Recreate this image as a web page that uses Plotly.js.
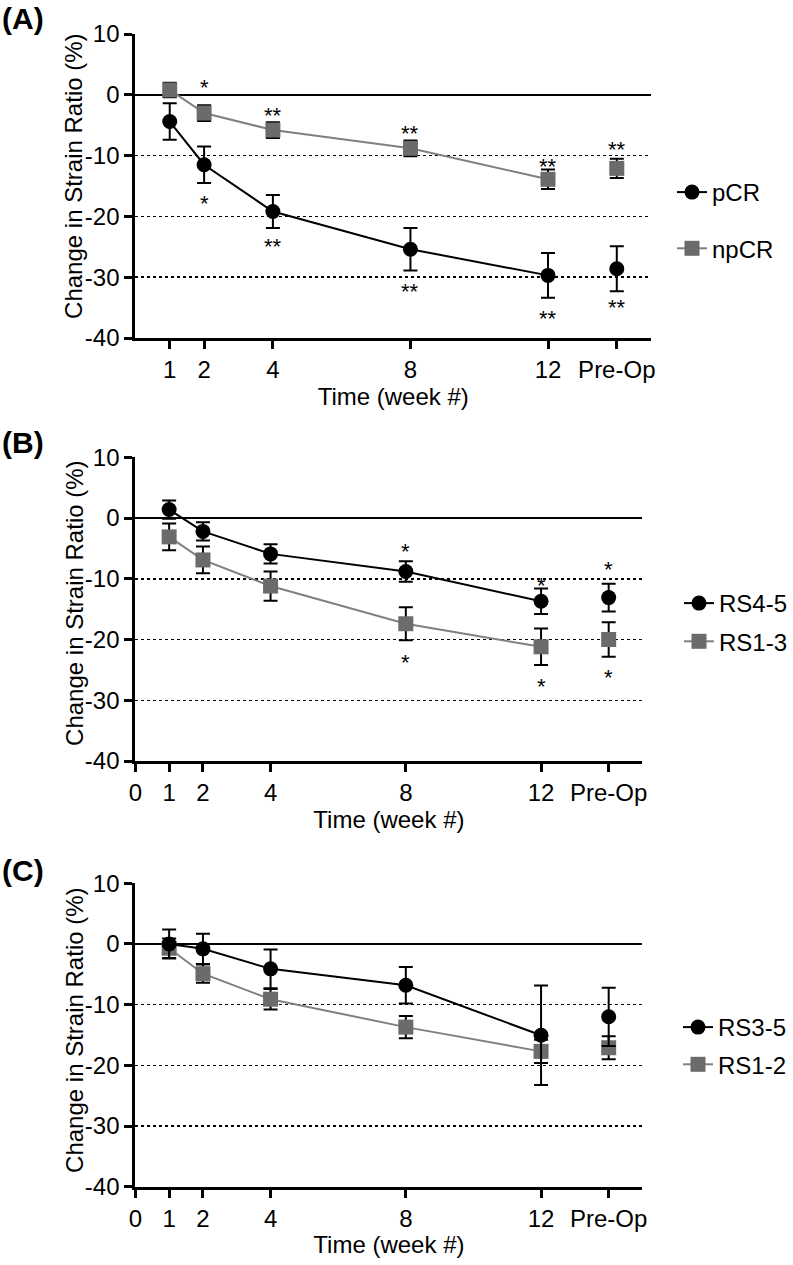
<!DOCTYPE html>
<html>
<head>
<meta charset="utf-8">
<script src="https://cdn.plot.ly/plotly-3.0.1.min.js"></script>
<style>html,body{margin:0;padding:0;background:#fff;}#chart{width:793px;height:1265px;}</style>
</head>
<body>
<div id="chart"></div>
<script>
// ---------- data ----------
const weeks = [1, 2, 4, 8, 12];
const preOpPos = 14;
const tickValsA = [1, 2, 4, 8, 12, 14];
const tickTextA = ['1', '2', '4', '8', '12', 'Pre-Op'];
const tickValsBC = [0, 1, 2, 4, 8, 12, 14];
const tickTextBC = ['0', '1', '2', '4', '8', '12', 'Pre-Op'];
const yTicks = [-40, -30, -20, -10, 0, 10];

// Panel A
const pCR_mean = [-4.4, -11.5, -19.2, -25.4, -29.7, -28.6];
const pCR_err = [3.0, 3.0, 2.7, 3.5, 3.7, 3.7];
const npCR_mean = [0.8, -3.0, -5.8, -8.8, -13.9, -12.1];
const npCR_err = [1.2, 1.3, 1.3, 1.3, 1.6, 1.6];
// Panel B
const RS45_mean = [1.4, -2.2, -5.9, -8.8, -13.7, -13.1];
const RS45_err = [1.5, 1.5, 1.6, 1.7, 2.1, 2.3];
const RS13_mean = [-3.1, -6.9, -11.2, -17.4, -21.2, -20.0];
const RS13_err = [2.2, 2.2, 2.4, 2.7, 3.0, 2.85];
// Panel C
const RS35_mean = [0.0, -0.8, -4.1, -6.8, -15.05, -12.0];
const RS35_err = [2.4, 2.5, 3.2, 3.0, 8.2, 4.8];
const RS12_mean = [-0.7, -4.9, -9.1, -13.7, -17.7, -17.1];
const RS12_err = [1.6, 1.5, 1.7, 1.85, 1.9, 1.9];

// significance marks (x position, level, label)
const sigA_x = [2, 4, 8, 12, 14, 2, 4, 8, 12, 14];
const sigA_y = [-17.1, -24.2, -31.5, -35.9, -34.2, 2.0, -2.6, -5.5, -11.0, -8.1];
const sigA_t = ['*', '**', '**', '**', '**', '*', '**', '**', '**', '**'];
const sigB_x = [8, 12, 14, 8, 12, 14];
const sigB_y = [-4.7, -10.3, -7.7, -23.0, -26.9, -25.5];
const sigB_t = ['*', '*', '*', '*', '*', '*'];

const yTitle = 'Change in Strain Ratio (%)';
const xTitle = 'Time (week #)';

// ---------- styling ----------
const W = 793, H = 1265;
const FONT = 'Liberation Sans, Arial, Helvetica, sans-serif';
const FS = 24;
const BLACK = '#000000';
const GRAY_M = '#6b6b6b';
const GRAY_L = '#808080';
const px = v => v / W;
const py = v => 1 - v / H;

function series(mean, err, color, lineColor, symbol, name, xa, ya, leg, rank) {
  const lineTrace = {
    x: weeks, y: mean.slice(0, 5),
    error_y: {type: 'data', array: err.slice(0, 5), visible: true, color: BLACK, thickness: 2, width: 7},
    mode: 'lines+markers', name: name,
    line: {color: lineColor, width: 2},
    marker: {color: color, symbol: symbol, size: 15},
    xaxis: xa, yaxis: ya, legend: leg, legendgroup: name + leg, legendrank: rank,
    cliponaxis: false
  };
  const preTrace = {
    x: [preOpPos], y: mean.slice(5),
    error_y: {type: 'data', array: err.slice(5), visible: true, color: BLACK, thickness: 2, width: 7},
    mode: 'markers', name: name, showlegend: false,
    marker: {color: color, symbol: symbol, size: 15},
    xaxis: xa, yaxis: ya, legendgroup: name + leg, cliponaxis: false
  };
  return [lineTrace, preTrace];
}

const data = [
  ...series(npCR_mean, npCR_err, GRAY_M, GRAY_L, 'square', 'npCR', 'x', 'y', 'legend', 2),
  ...series(pCR_mean, pCR_err, BLACK, BLACK, 'circle', 'pCR', 'x', 'y', 'legend', 1),
  ...series(RS13_mean, RS13_err, GRAY_M, GRAY_L, 'square', 'RS1-3', 'x2', 'y2', 'legend2', 2),
  ...series(RS45_mean, RS45_err, BLACK, BLACK, 'circle', 'RS4-5', 'x2', 'y2', 'legend2', 1),
  ...series(RS12_mean, RS12_err, GRAY_M, GRAY_L, 'square', 'RS1-2', 'x3', 'y3', 'legend3', 2),
  ...series(RS35_mean, RS35_err, BLACK, BLACK, 'circle', 'RS3-5', 'x3', 'y3', 'legend3', 1)
];

function xAxis(domainPx, tv, tt, anchor) {
  return {
    domain: [px(domainPx[0]), px(domainPx[1])], anchor: anchor,
    range: [0, 15], tickmode: 'array', tickvals: tv, ticktext: tt,
    showgrid: false, zeroline: false, showline: true, linecolor: BLACK, linewidth: 3,
    ticks: 'outside', ticklen: 8, tickwidth: 3, tickcolor: BLACK,
    tickfont: {family: FONT, size: FS, color: BLACK},
    title: {text: xTitle, font: {family: FONT, size: FS, color: BLACK}, standoff: 3},
    fixedrange: true
  };
}
function yAxis(domainPx, anchor) {
  return {
    domain: [py(domainPx[1]), py(domainPx[0])], anchor: anchor,
    range: [-40, 10], tickmode: 'array', tickvals: yTicks, ticktext: yTicks.map(String),
    showgrid: true, gridcolor: BLACK, gridwidth: 1.5, griddash: 'dot',
    zeroline: true, zerolinecolor: BLACK, zerolinewidth: 2,
    showline: true, linecolor: BLACK, linewidth: 3,
    ticks: 'outside', ticklen: 8, tickwidth: 3, tickcolor: BLACK,
    tickfont: {family: FONT, size: FS, color: BLACK},
    fixedrange: true
  };
}
function legend(xPx, yTopPx, gap) {
  return {
    x: px(xPx), xanchor: 'left', y: py(yTopPx), yanchor: 'top',
    font: {family: FONT, size: FS, color: BLACK}, bgcolor: 'rgba(0,0,0,0)',
    traceorder: 'grouped', tracegroupgap: gap, itemwidth: 30
  };
}

const annotations = [];
sigA_x.forEach((x, i) => annotations.push({x: x, y: sigA_y[i], xref: 'x', yref: 'y', text: sigA_t[i], showarrow: false,
  yanchor: 'middle', yshift: -5, font: {family: FONT, size: 22, color: BLACK}}));
sigB_x.forEach((x, i) => annotations.push({x: x, y: sigB_y[i], xref: 'x2', yref: 'y2', text: sigB_t[i], showarrow: false,
  yanchor: 'middle', yshift: -5, font: {family: FONT, size: 22, color: BLACK}}));
[['(A)', 18], ['(B)', 443], ['(C)', 870]].forEach(([t, y]) => annotations.push({
  x: 0, y: py(y), xref: 'paper', yref: 'paper', xanchor: 'left', yanchor: 'middle', showarrow: false,
  text: '<b>' + t + '</b>', font: {family: FONT, size: 30, color: BLACK}}));
// y-axis titles (rotated)
[176, 603, 1030].forEach(y => annotations.push({
  x: px(74), y: py(y), xref: 'paper', yref: 'paper', xanchor: 'center', yanchor: 'middle', showarrow: false,
  textangle: -90, text: yTitle, font: {family: FONT, size: FS, color: BLACK}}));

const layout = {
  width: W, height: H, margin: {l: 0, r: 0, t: 0, b: 0},
  paper_bgcolor: '#fff', plot_bgcolor: '#fff',
  font: {family: FONT, size: FS, color: BLACK},
  xaxis: xAxis([135.5, 652], tickValsA, tickTextA, 'y'),
  yaxis: yAxis([34, 338], 'x'),
  xaxis2: xAxis([135.5, 643.3], tickValsBC, tickTextBC, 'y2'),
  yaxis2: yAxis([457.3, 761], 'x2'),
  xaxis3: xAxis([135.5, 643.3], tickValsBC, tickTextBC, 'y3'),
  yaxis3: yAxis([883.3, 1186.7], 'x3'),
  legend: legend(672, 170, 22),
  legend2: legend(680, 581, 4),
  legend3: legend(678, 1005, 3),
  annotations: annotations,
  showlegend: true
};

Plotly.newPlot('chart', data, layout, {displayModeBar: false, staticPlot: true});
</script>
</body>
</html>
